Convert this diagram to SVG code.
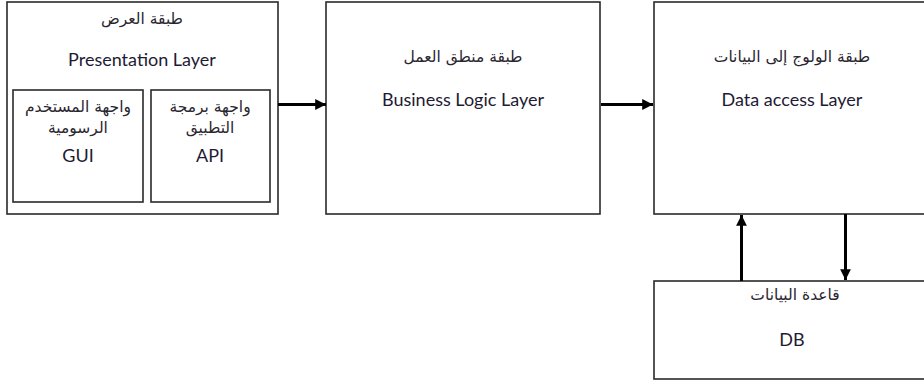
<svg xmlns="http://www.w3.org/2000/svg" width="924" height="383" viewBox="0 0 924 383">
<style>
.box{fill:#fff;stroke:#2a2a2a;stroke-width:1.6}
.en{font-family:Lato,"Open Sans","DejaVu Sans",sans-serif;font-size:18px;fill:#1e1a33;text-anchor:middle}
.ar{font-family:"DejaVu Sans",sans-serif;font-size:15.5px;fill:#2a2630;text-anchor:middle;direction:rtl}
.conn{stroke:#000;stroke-width:3;fill:none}
</style>
<defs>
<marker id="ah" viewBox="0 0 10 10" refX="10" refY="5" markerWidth="4" markerHeight="3.6" orient="auto" markerUnits="strokeWidth">
<path d="M0,0 L10,5 L0,10 z" fill="#000"/>
</marker>
</defs>
<rect width="924" height="383" fill="#fff"/>
<g id="presentation">
<rect class="box" x="7" y="2" width="271" height="212"/>
<text class="ar" x="142" y="24">طبقة العرض</text>
<text class="en" x="142" y="66">Presentation Layer</text>
</g>
<g id="gui">
<rect class="box" x="13" y="90" width="130" height="112"/>
<text class="ar" x="78" y="112">واجهة المستخدم</text>
<text class="ar" x="78" y="133">الرسومية</text>
<text class="en" x="78" y="162">GUI</text>
</g>
<g id="api">
<rect class="box" x="151" y="90" width="119" height="112"/>
<text class="ar" x="210" y="112">واجهة برمجة</text>
<text class="ar" x="210" y="133">التطبيق</text>
<text class="en" x="210" y="162">API</text>
</g>
<g id="business">
<rect class="box" x="326" y="2" width="274" height="212"/>
<text class="ar" x="463" y="62">طبقة منطق العمل</text>
<text class="en" x="463" y="106">Business Logic Layer</text>
</g>
<g id="dataaccess">
<rect class="box" x="654" y="2" width="280" height="212"/>
<text class="ar" x="792" y="62">طبقة الولوج إلى البيانات</text>
<text class="en" x="792" y="106">Data access Layer</text>
</g>
<g id="db">
<rect class="box" x="654" y="281" width="280" height="98"/>
<text class="ar" x="795" y="300">قاعدة البيانات</text>
<text class="en" x="792" y="346">DB</text>
</g>
<g id="connectors">
<line class="conn" x1="278" y1="104.5" x2="326" y2="104.5" marker-end="url(#ah)"/>
<line class="conn" x1="601" y1="104.5" x2="653" y2="104.5" marker-end="url(#ah)"/>
<line class="conn" x1="741.5" y1="281" x2="741.5" y2="215" marker-end="url(#ah)"/>
<line class="conn" x1="845.5" y1="214" x2="845.5" y2="280" marker-end="url(#ah)"/>
</g>
</svg>
